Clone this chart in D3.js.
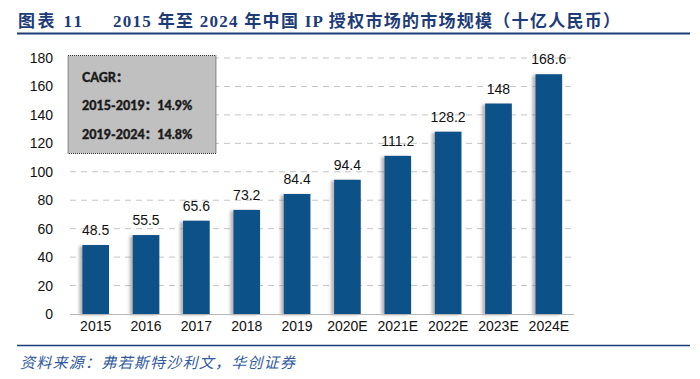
<!DOCTYPE html>
<html><head><meta charset="utf-8">
<script src="https://cdn.jsdelivr.net/npm/d3@7/dist/d3.min.js"></script>
<style>body{margin:0;background:#fff;}svg{display:block;}</style>
</head><body>
<svg id="c" width="700" height="379"></svg>
<script>
const categories = ["2015","2016","2017","2018","2019","2020E","2021E","2022E","2023E","2024E"];
const values = [48.5,55.5,65.6,73.2,84.4,94.4,111.2,128.2,148,168.6];
const valueLabels = ["48.5","55.5","65.6","73.2","84.4","94.4","111.2","128.2","148","168.6"];
const yTicks = [0,20,40,60,80,100,120,140,160,180];
const titleLead = "图表 11";
const titleMain = "2015 年至 2024 年中国 IP 授权市场的市场规模（十亿人民币）";
const cagrLines = ["CAGR：","2015-2019：14.9%","2019-2024：14.8%"];
const sourceText = "资料来源：弗若斯特沙利文，华创证券";

const svg = d3.select("#c");
const defs = svg.append("defs");
const f = defs.append("filter").attr("id","sh").attr("x","-30%").attr("y","-5%").attr("width","140%").attr("height","115%");
f.append("feDropShadow").attr("dx",-3).attr("dy",1).attr("stdDeviation",1.6).attr("flood-color","#777").attr("flood-opacity",0.55);

// title
svg.append("text").attr("x",18).attr("y",27).attr("fill","#1d3c78")
  .attr("font-family","'Liberation Serif','Noto Sans CJK SC',serif").attr("font-weight","bold").attr("font-size",17)
  .attr("textLength",64).attr("lengthAdjust","spacing")
  .text(titleLead);
svg.append("text").attr("x",113).attr("y",27).attr("fill","#1d3c78")
  .attr("font-family","'Liberation Serif','Noto Sans CJK SC',serif").attr("font-weight","bold").attr("font-size",17)
  .attr("textLength",507).attr("lengthAdjust","spacing")
  .text(titleMain);
svg.append("line").attr("x1",17).attr("x2",690).attr("y1",33.5).attr("y2",33.5).attr("stroke","#1d3c78").attr("stroke-width",2);

const x = d3.scaleBand().domain(categories).range([70.5,574]).paddingInner(0.47).paddingOuter(0.235);
const y = d3.scaleLinear().domain([0,180]).range([314,58]);

const g = svg.append("g");
// gridlines
g.selectAll("line.grid").data(yTicks.filter(d=>d>0)).join("line").attr("class","grid")
  .attr("x1",70).attr("x2",574).attr("y1",d=>y(d)).attr("y2",d=>y(d))
  .attr("stroke","#c4c4c4").attr("stroke-width",1).attr("stroke-dasharray","6,5");

// y axis
const yAxis = d3.axisLeft(y).tickValues(yTicks).tickSize(0).tickPadding(0);
const ya = svg.append("g").attr("transform","translate(53,0)").call(yAxis);
ya.select(".domain").remove();
ya.selectAll("text").attr("font-family","'Liberation Sans',Arial,sans-serif").attr("font-size",14).attr("fill","#111");

// bars
g.selectAll("rect.bar").data(values).join("rect").attr("class","bar")
  .attr("x",(d,i)=>x(categories[i])).attr("width",x.bandwidth())
  .attr("y",d=>y(d)).attr("height",d=>y(0)-y(d))
  .attr("fill","#0c5189").attr("filter","url(#sh)");

// baseline
g.append("line").attr("x1",70).attr("x2",574).attr("y1",y(0)+0.5).attr("y2",y(0)+0.5).attr("stroke","#b8b8b8").attr("stroke-width",1.2);

// value labels
g.selectAll("text.val").data(values).join("text").attr("class","val")
  .attr("x",(d,i)=>x(categories[i])+x.bandwidth()/2).attr("y",d=>y(d)-10)
  .attr("text-anchor","middle").attr("font-family","'Liberation Sans',Arial,sans-serif").attr("font-size",14).attr("fill","#111")
  .text((d,i)=>valueLabels[i]);

// x axis
const xAxis = d3.axisBottom(x).tickSize(0).tickPadding(0);
const xa = svg.append("g").attr("transform","translate(0,320)").call(xAxis);
xa.select(".domain").remove();
xa.selectAll("text").attr("dy","0.75em").attr("font-family","'Liberation Sans',Arial,sans-serif").attr("font-size",14).attr("fill","#111");

// CAGR box
svg.append("rect").attr("x",68).attr("y",55.5).attr("width",148).attr("height",98)
  .attr("fill","#c0c0c0").attr("stroke","#333").attr("stroke-width",1).attr("stroke-dasharray","1,1");
svg.selectAll("text.cagr").data(cagrLines).join("text").attr("class","cagr")
  .attr("x",82).attr("y",(d,i)=>82+i*28.3)
  .attr("font-family","Lato,'Noto Sans CJK SC',sans-serif").attr("font-weight",900).attr("font-size",12.5).attr("fill","#1a1a1a")
  .attr("stroke","#1a1a1a").attr("stroke-width",0.35)
  .text(d=>d);

// source
svg.append("line").attr("x1",17).attr("x2",690).attr("y1",345.5).attr("y2",345.5).attr("stroke","#1d3c78").attr("stroke-width",1.5);
svg.append("text").attr("x",20).attr("y",368).attr("fill","#2f5a9e")
  .attr("font-family","'Noto Sans CJK SC',sans-serif").attr("font-style","italic").attr("font-size",15)
  .attr("textLength",275).attr("lengthAdjust","spacing")
  .text(sourceText);
</script>
</body></html>
